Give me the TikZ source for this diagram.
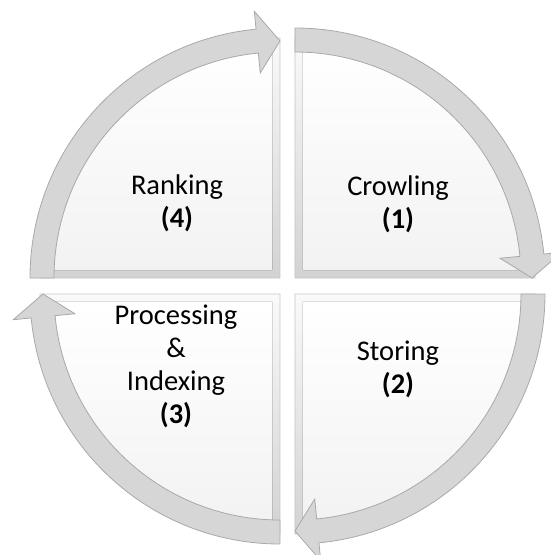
\documentclass[tikz,border=0pt]{standalone}
\usepackage{fontspec}
\setmainfont{Carlito}
\definecolor{ringfill}{HTML}{D6D6D6}
\definecolor{ringedge}{HTML}{A9A9A9}
\begin{document}
\begin{tikzpicture}[x=1pt,y=1pt,
  ring/.style={fill=ringfill,draw=ringedge,line width=0.8pt,line join=miter},
  quad/.style={draw=gray!45,line width=0.6pt,top color=gray!4,bottom color=gray!35},
  face/.style={top color=white,bottom color=gray!10},
  lbl/.style={font=\fontsize{28.5}{33}\selectfont,align=center,anchor=base}]
  \useasboundingbox (-287.5,-269) rectangle (263.5,286);
  % Four bevelled tiles, each carrying a quarter of the cycle arrow.
  \foreach \a/\cx/\cy in {90/7.5/8,0/7.5/-8,-90/-7.5/-8,180/-7.5/8}{
    \begin{scope}[shift={(\cx,\cy)}]
      \draw[quad] (0,0) -- (\a:240) arc[start angle=\a,end angle=\a-90,radius=240] -- cycle;
      \fill[face] (\a-45:11.3) -- ++(\a:225) arc[start angle=\a,end angle=\a-90,radius=225] -- cycle;
      \draw[ring] (\a:250) arc[start angle=\a,end angle=\a-84.5,radius=250]
        -- (\a-84.5:268) -- (\a-90:237) -- (\a-84.5:206) -- (\a-84.5:226)
        arc[start angle=\a-84.5,end angle=\a,radius=226] -- cycle;
    \end{scope}
  }
  % Step labels, placed by the baseline of their last line.
  \node[lbl] (crawl) at (110.5,58) {Crowling\\\textbf{(1)}};
  \node[lbl] (store) at (110.5,-107) {Storing\\\textbf{(2)}};
  \node[lbl] (index) at (-111.5,-137) {Processing\\\&\\Indexing\\\textbf{(3)}};
  \node[lbl] (rank) at (-110.5,59) {Ranking\\\textbf{(4)}};
\end{tikzpicture}
\end{document}
